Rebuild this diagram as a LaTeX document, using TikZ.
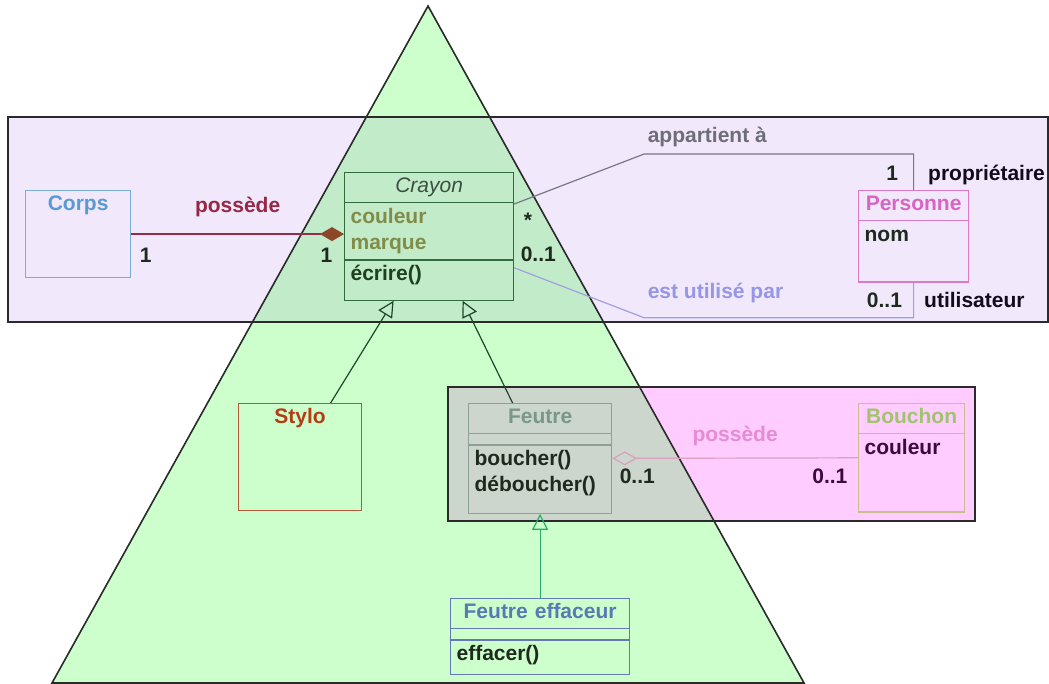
\documentclass[tikz,border=0pt]{standalone}
\usepackage{fontspec}
\setmainfont{Liberation Sans}
\usepackage{tikz}
\usepackage{xcolor}
\usetikzlibrary{positioning}
\usetikzlibrary{shapes.multipart}
\usetikzlibrary{arrows.meta}
\definecolor{lilac}{HTML}{F1E8FB}
\definecolor{rose}{HTML}{FFCCFF}
\definecolor{mint}{HTML}{CCFFCC}
\definecolor{mintlilac}{HTML}{C2EBC9}
\definecolor{mintrose}{HTML}{CCD6CC}
\definecolor{regionline}{HTML}{2A2A2A}
\definecolor{corpsline}{HTML}{78AEDC}
\definecolor{corpstext}{HTML}{5A9AD2}
\definecolor{crayonline}{HTML}{2F6B3C}
\definecolor{crayontitle}{HTML}{3C5040}
\definecolor{crayonattr}{HTML}{808C48}
\definecolor{crayonop}{HTML}{1E4020}
\definecolor{persline}{HTML}{DC78C8}
\definecolor{perstext}{HTML}{D864C4}
\definecolor{styloline}{HTML}{B45A3C}
\definecolor{stylotext}{HTML}{B43C14}
\definecolor{feutreline}{HTML}{8CA096}
\definecolor{feutretext}{HTML}{78988A}
\definecolor{bouchline}{HTML}{C8BE8C}
\definecolor{bouchtext}{HTML}{A0C46E}
\definecolor{bouchattr}{HTML}{3C0A3C}
\definecolor{effline}{HTML}{6478B4}
\definecolor{efftext}{HTML}{5A78B4}
\definecolor{textdark}{HTML}{1E2A1E}
\definecolor{roledark}{HTML}{140A1E}
\definecolor{possline}{HTML}{962D46}
\definecolor{posstext}{HTML}{962846}
\definecolor{diamondbrown}{HTML}{8C4628}
\definecolor{ownline}{HTML}{787882}
\definecolor{owntext}{HTML}{6E6E78}
\definecolor{useline}{HTML}{A0A0DC}
\definecolor{usetext}{HTML}{9696E6}
\definecolor{capline}{HTML}{DCA0BE}
\definecolor{captext}{HTML}{E68CD2}
\definecolor{isaline}{HTML}{1E4628}
\definecolor{tealline}{HTML}{28AA6E}
\newcommand\umlfont{\fontsize{21}{26}\selectfont\bfseries}
\newcommand\lowpad[1]{\rule[-#1]{0pt}{#1}}
\newcommand\umltitle[1]{\makebox[\linewidth]{\strut #1}}
\tikzset{
  % A UML class box: name / attributes / operations
  umlclass/.style={
    rectangle split, rectangle split parts=3,
    rectangle split draw splits=true, align=left, font=\umlfont,
    line width=1.2pt, inner xsep=6pt, inner ysep=1.5pt,
    anchor=north west, text width=#1},
  % A class box with a name and one compartment
  umlclasstwo/.style={umlclass=#1, rectangle split parts=2},
  % A class box with only a name
  umlname/.style={
    align=center, font=\umlfont, line width=1.2pt,
    inner xsep=6pt, inner ysep=1.5pt, anchor=north west, text width=#1},
  % Coloured regions behind the classes
  region/.style={draw=regionline, line width=1.6pt},
  % Relationships
  isa/.style={-{Triangle[open, length=16pt, width=16pt]}, line width=1.2pt},
  assoc/.style={line width=1.2pt},
  lbl/.style={font=\umlfont, inner sep=3pt},
  mult/.style={font=\umlfont, text=textdark, inner sep=3pt},
}
\begin{document}
\begin{tikzpicture}[x=1pt, y=-1pt]
\useasboundingbox (0,0) rectangle (1049,684);

% regions
\fill[lilac] (8,117) rectangle (1048,322);
\fill[rose] (448,387) rectangle (975,521);
\fill[mint] (428,6) -- (52,683) -- (804,683) -- cycle;
\begin{scope}
  \clip (428,6) -- (52,683) -- (804,683) -- cycle;
  \fill[mintlilac] (8,117) rectangle (1048,322);
  \fill[mintrose] (448,387) rectangle (975,521);
\end{scope}
\draw[region] (8,117) rectangle (1048,322);
\draw[region] (448,387) rectangle (975,521);
\draw[region] (428,6) -- (52,683) -- (804,683) -- cycle;

\node[umlname=93pt, draw=corpsline, text=corpstext] (corps) at (25,190) {
  \strut Corps\lowpad{65.8pt}
};

\node[umlclass=157pt, draw=crayonline] (crayon) at (344,172) {
  \umltitle{\mdseries\itshape\color{crayontitle}Crayon}
  \nodepart{two}
    \color{crayonattr}\strut couleur\\
    marque\lowpad{8.8pt}
  \nodepart{three}
    \color{crayonop}\strut écrire()\lowpad{17.8pt}
};

\node[umlclasstwo=98pt, draw=persline] (personne) at (858,190) {
  \umltitle{\color{perstext}Personne}
  \nodepart{two}
    \color{textdark}\strut nom\lowpad{38.8pt}
};

\node[umlname=111pt, draw=styloline, text=stylotext] (stylo) at (238,403) {
  \strut Stylo\lowpad{85.8pt}
};

\node[umlclass=131pt, draw=feutreline] (feutre) at (468,403) {
  \umltitle{\color{feutretext}Feutre}
  \nodepart{two}
    \rule{0pt}{7pt}
  \nodepart{three}
    \color{textdark}\strut boucher()\\
    déboucher()\lowpad{19.8pt}
};

\node[umlclasstwo=94pt, draw=bouchline] (bouchon) at (858,403) {
  \umltitle{\color{bouchtext}Bouchon}
  \nodepart{two}
    \color{bouchattr}\strut couleur\lowpad{55.8pt}
};

\node[umlclass=167pt, draw=effline] (effaceur) at (450,598) {
  \umltitle{\color{efftext}Feutre effaceur}
  \nodepart{two}
    \rule{0pt}{7pt}
  \nodepart{three}
    \color{textdark}\strut effacer()\lowpad{11.8pt}
};

\draw[assoc, draw=possline, -{Diamond[length=24pt, width=14pt, color=diamondbrown]}]
  (corps.east) node[mult, anchor=base west, xshift=5pt, yshift=-28.5pt]{1}
  -- node[lbl, above=14pt, text=posstext]{possède} (crayon.west |- corps.east)
  node[mult, anchor=base east, xshift=-8pt, yshift=-28.5pt]{1};

\draw[assoc, draw=ownline] ([yshift=-32pt]crayon.north east)
  node[mult, anchor=base west, xshift=6pt, yshift=-24pt]{*}
  -- ++(130,-50) node[lbl, anchor=base west, yshift=11pt, text=owntext]{appartient à}
  -| (personne.north)
  node[mult, anchor=base east, xshift=-12pt, yshift=9pt]{1}
  node[mult, anchor=base west, xshift=11pt, yshift=9pt, text=roledark]{propriétaire};

\draw[assoc, draw=useline] ([yshift=33pt]crayon.south east)
  node[mult, anchor=base west, xshift=3pt, yshift=6pt]{0..1}
  -- ++(130,50) node[lbl, anchor=base west, yshift=19pt, text=usetext]{est utilisé par}
  -| (personne.south)
  node[mult, anchor=base east, xshift=-8pt, yshift=-25pt]{0..1}
  node[mult, anchor=base west, xshift=7pt, yshift=-25pt, text=roledark]{utilisateur};

\draw[isa, draw=isaline] ([xshift=30.5pt]stylo.north) -- ([xshift=-35.5pt]crayon.south);
\draw[isa, draw=isaline] ([xshift=-27.5pt]feutre.north) -- ([xshift=33.5pt]crayon.south);
\draw[isa, draw=tealline] (effaceur.north) -- (feutre.south);

\draw[assoc, draw=capline, {Diamond[open, length=25pt, width=14pt]}-]
  (feutre.east) node[mult, anchor=base west, xshift=4pt, yshift=-25pt]{0..1}
  -- node[lbl, above=9pt, text=captext]{possède} (bouchon.west)
  node[mult, anchor=base east, xshift=-7pt, yshift=-26pt, text=bouchattr]{0..1};

\end{tikzpicture}
\end{document}
